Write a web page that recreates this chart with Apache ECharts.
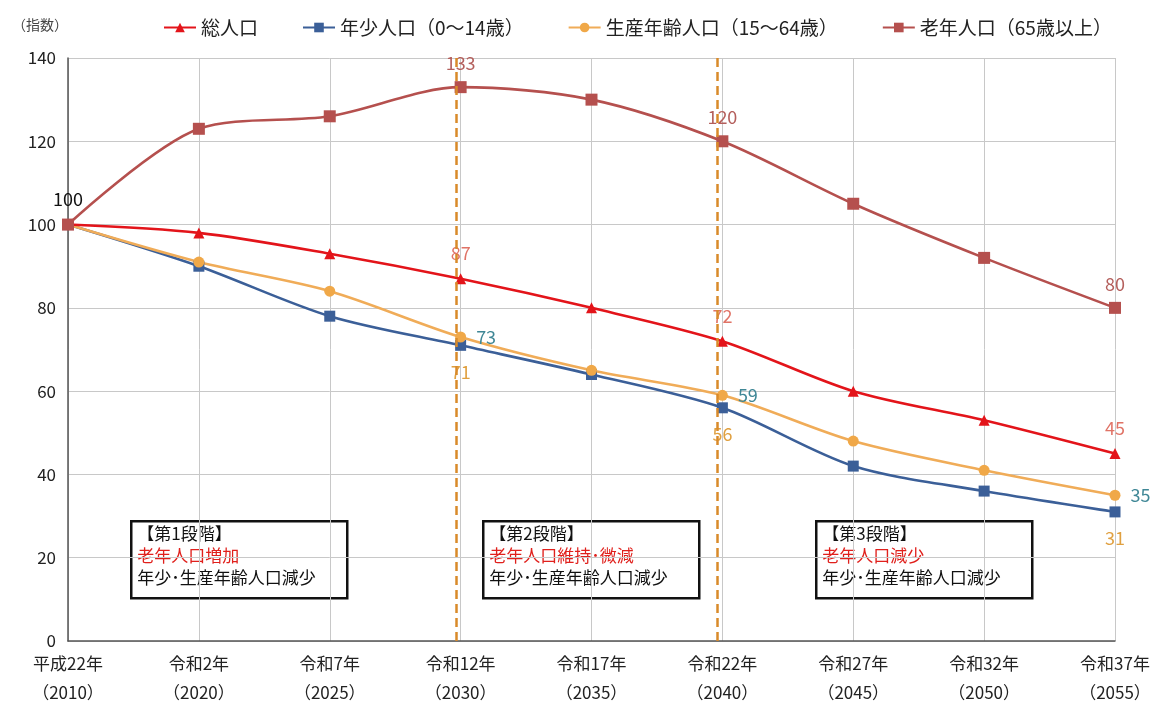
<!DOCTYPE html>
<html>
<head>
<meta charset="utf-8">
<script src="https://cdn.jsdelivr.net/npm/echarts@6/dist/echarts.min.js"></script>
<style>
  html, body { margin: 0; padding: 0; background: #fff; }
  #chart { width: 1159px; height: 702px; }
</style>
</head>
<body>
<div id="chart"></div>
<script>
// Population index by year (平成22年 = 100)
const categories = ['平成22年\n（2010）', '令和2年\n（2020）', '令和7年\n（2025）', '令和12年\n（2030）',
  '令和17年\n（2035）', '令和22年\n（2040）', '令和27年\n（2045）', '令和32年\n（2050）', '令和37年\n（2055）'];
const seriesNames = ['総人口', '年少人口（0～14歳）', '生産年齢人口（15～64歳）', '老年人口（65歳以上）'];
const total   = [100, 98, 93, 87, 80, 72, 60, 53, 45];
const youth   = [100, 90, 78, 71, 64, 56, 42, 36, 31];
const working = [100, 91, 84, 73, 65, 59, 48, 41, 35];
const elderly = [100, 123, 126, 133, 130, 120, 105, 92, 80];
const yTicks = [0, 20, 40, 60, 80, 100, 120, 140];

// indices of points carrying a value label
const totalLabelIdx = [0, 3, 5, 8];
const otherLabelIdx = [3, 5, 8];
// phase boundaries, in category units
const phaseBoundaries = [2.97, 4.96];

const FONT = '"Noto Sans CJK JP", "Noto Sans", sans-serif';

function withLabels(values, idx, labelCfg, firstCfg) {
  return values.map((v, i) => {
    if (!idx.includes(i)) return v;
    const cfg = (i === 0 && firstCfg) ? firstCfg : labelCfg;
    return { value: v, label: Object.assign({ show: true, fontFamily: FONT, fontSize: 18 }, cfg) };
  });
}

const chart = echarts.init(document.getElementById('chart'), null, { renderer: 'canvas' });

const boxes = [
  { x: 130, title: '【第1段階】', red: '老年人口増加' },
  { x: 482, title: '【第2段階】', red: '老年人口維持･微減' },
  { x: 815, title: '【第3段階】', red: '老年人口減少' }
];

function boxGraphic(b) {
  const f = '17px ' + FONT;
  return {
    type: 'group', left: b.x, top: 520,
    children: [
      { type: 'rect', shape: { x: 0, y: 0, width: 216, height: 77 },
        style: { fill: '#fff', stroke: '#111', lineWidth: 2.5 } },
      { type: 'text', x: 6, y: 4, style: { text: b.title, fill: '#111', font: f } },
      { type: 'text', x: 6, y: 26, style: { text: b.red, fill: '#e0201c', font: f } },
      { type: 'text', x: 6, y: 48, style: { text: '年少･生産年齢人口減少', fill: '#111', font: f } }
    ]
  };
}

const option = {
  backgroundColor: '#fff',
  animation: false,
  textStyle: { fontFamily: FONT },
  grid: { left: 68, right: 44, top: 58, bottom: 61, outerBoundsMode: 'none', containLabel: false },
  legend: {
    left: 158, top: 13,
    itemWidth: 32, itemHeight: 12, itemGap: 44,
    textStyle: { fontSize: 19, color: '#222', fontFamily: FONT },
    data: seriesNames
  },
  graphic: [
    { type: 'text', left: 12, top: 18, style: { text: '（指数）', fill: '#444', font: '14px ' + FONT } }
  ].concat(boxes.map(boxGraphic)),
  xAxis: [
    {
      type: 'category', data: categories, boundaryGap: false,
      axisLine: { lineStyle: { color: '#555', width: 1.5 } },
      axisTick: { show: false },
      axisLabel: { color: '#222', fontSize: 17, lineHeight: 29, margin: 8, fontFamily: FONT },
      splitLine: { show: true, lineStyle: { color: '#c8c8c8', width: 1 } }
    },
    { type: 'value', min: 0, max: categories.length - 1, show: false }
  ],
  yAxis: {
    type: 'value', min: 0, max: 140, interval: 20,
    axisLine: { show: true, lineStyle: { color: '#555', width: 1.5 } },
    axisTick: { show: false },
    axisLabel: { color: '#222', fontSize: 17, margin: 12, fontFamily: FONT,
      formatter: v => yTicks.includes(v) ? String(v) : '' },
    splitLine: { lineStyle: { color: '#c8c8c8', width: 1 } }
  },
  series: [
    {
      name: seriesNames[0], type: 'line', smooth: 0.3,
      symbol: 'triangle', symbolSize: 11,
      itemStyle: { color: '#e3141a' }, lineStyle: { color: '#e3141a', width: 2.6 },
      data: withLabels(total, totalLabelIdx,
        { position: 'top', distance: 11, color: '#e07366' },
        { position: 'top', distance: 11, color: '#111' }),
      z: 3
    },
    {
      name: seriesNames[1], type: 'line', smooth: 0.3,
      symbol: 'rect', symbolSize: 11,
      itemStyle: { color: '#3b5f98' }, lineStyle: { color: '#3b5f98', width: 2.6 },
      data: withLabels(youth, otherLabelIdx,
        { position: 'bottom', distance: 12, color: '#e0a040' }),
      z: 2
    },
    {
      name: seriesNames[2], type: 'line', smooth: 0.3,
      symbol: 'circle', symbolSize: 11,
      itemStyle: { color: '#f0a848' }, lineStyle: { color: '#f0ac58', width: 2.6 },
      data: withLabels(working, otherLabelIdx,
        { position: 'right', distance: 10, color: '#3f8796' }),
      z: 2
    },
    {
      name: seriesNames[3], type: 'line', smooth: 0.3,
      symbol: 'rect', symbolSize: 12,
      itemStyle: { color: '#b5504e' }, lineStyle: { color: '#b5504e', width: 2.6 },
      data: withLabels(elderly, otherLabelIdx,
        { position: 'top', distance: 9, color: '#b45f5c' }),
      z: 4
    },
    {
      // dashed phase boundaries
      type: 'line', xAxisIndex: 1, data: [], silent: true,
      markLine: {
        silent: true, symbol: ['none', 'none'], label: { show: false },
        lineStyle: { color: '#d98a2a', type: [9, 5], width: 2.5 },
        data: phaseBoundaries.map(x => ({ xAxis: x }))
      },
      z: 1
    }
  ]
};

chart.setOption(option);
</script>
</body>
</html>
